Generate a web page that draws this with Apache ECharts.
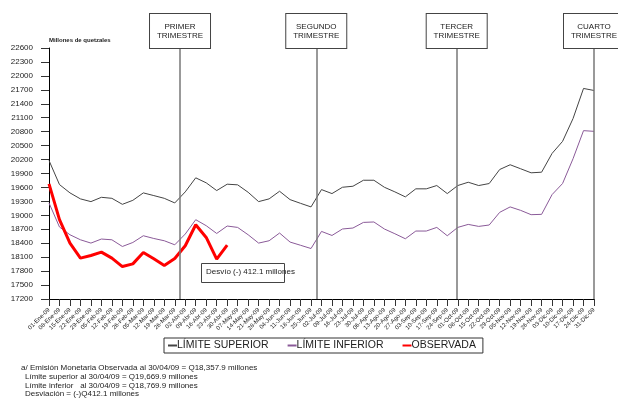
<!DOCTYPE html>
<html><head><meta charset="utf-8">
<script src="https://cdn.jsdelivr.net/npm/echarts@6/dist/echarts.min.js"></script>
<style>html,body{margin:0;padding:0;background:#fff}#c{width:618px;height:399px}</style>
</head><body><div id="c"></div>
<script>
const fechas = ['01-Ene-09','08-Ene-09','15-Ene-09','22-Ene-09','29-Ene-09','05-Feb-09','12-Feb-09','19-Feb-09','26-Feb-09','05-Mar-09','12-Mar-09','19-Mar-09','26-Mar-09','02-Abr-09','09-Abr-09','16-Abr-09','23-Abr-09','30-Abr-09','07-May-09','14-May-09','21-May-09','28-May-09','04-Jun-09','11-Jun-09','18-Jun-09','25-Jun-09','02-Jul-09','09-Jul-09','16-Jul-09','23-Jul-09','30-Jul-09','06-Ago-09','13-Ago-09','20-Ago-09','27-Ago-09','03-Sep-09','10-Sep-09','17-Sep-09','24-Sep-09','01-Oct-09','08-Oct-09','15-Oct-09','22-Oct-09','29-Oct-09','05-Nov-09','12-Nov-09','19-Nov-09','26-Nov-09','03-Dic-09','10-Dic-09','17-Dic-09','24-Dic-09','31-Dic-09'];
const limiteSuperior = [20180,19662,19483,19354,19295,19388,19366,19237,19323,19483,19425,19366,19267,19505,19807,19699,19533,19670,19656,19496,19295,19354,19518,19338,19258,19181,19554,19468,19604,19626,19755,19755,19604,19505,19397,19570,19570,19641,19468,19641,19712,19641,19684,19986,20088,20002,19915,19928,20332,20591,21082,21730,21686];
const limiteInferior = [19267,18749,18582,18474,18403,18490,18474,18330,18416,18561,18502,18453,18366,18598,18906,18777,18610,18770,18740,18582,18403,18453,18619,18425,18356,18286,18654,18567,18706,18727,18848,18857,18706,18604,18496,18662,18662,18740,18561,18740,18805,18762,18792,19064,19181,19107,19014,19021,19446,19684,20218,20822,20807];
const observada = [19678,18906,18403,18079,18135,18209,18079,17898,17956,18200,18064,17919,18070,18345,18798,18524,18058,18358];
const trimestres = ['PRIMER\nTRIMESTRE','SEGUNDO\nTRIMESTRE','TERCER\nTRIMESTRE','CUARTO\nTRIMESTRE'];
const posTrimestres = [12.5, 25.5, 38.9, 52];
const yTicks = {min:17200, max:22600, step:300};
const notas = [
  'a/ Emisión Monetaria Observada al 30/04/09 = Q18,357.9 millones',
  'Límite superior al 30/04/09 = Q19,669.9 millones',
  'Límite inferior   al 30/04/09 = Q18,769.9 millones',
  'Desviación = (-)Q412.1 millones'
];
const FONT = 'Liberation Sans, Arial, sans-serif';
const chart = echarts.init(document.getElementById('c'), null, {renderer:'canvas'});
chart.setOption({
  animation:false,
  textStyle:{fontFamily:FONT},
  grid:{left:49,right:24,top:48,bottom:100},
  xAxis:[{
    type:'category', data:fechas, boundaryGap:false,
    axisLine:{lineStyle:{color:'#000',width:1}},
    axisTick:{show:true,length:7,interval:0,alignWithLabel:true,lineStyle:{color:'#333'}},
    axisLabel:{interval:0,rotate:45,fontSize:6,color:'#222',margin:10,fontFamily:FONT},
    splitLine:{show:false}
  },{
    type:'value', min:0, max:52, show:false
  }],
  yAxis:{
    type:'value', min:yTicks.min, max:yTicks.max, interval:yTicks.step,
    axisLine:{show:true,lineStyle:{color:'#000'}},
    axisTick:{show:true,length:8,lineStyle:{color:'#333'}},
    axisLabel:{fontSize:8,color:'#222',margin:16,fontFamily:FONT,formatter:v=>String(v)},
    splitLine:{show:false}
  },
  legend:{
    left:164, top:338, itemGap:19, padding:[2,7,2,4],
    borderColor:'#333', borderWidth:1,
    itemWidth:9, itemHeight:2, icon:'rect',
    textStyle:{fontSize:10.5,color:'#222',fontFamily:FONT,padding:[0,0,0,-5]},
    data:['LÍMITE SUPERIOR','LÍMITE INFERIOR','OBSERVADA']
  },
  series:[
    {name:'LÍMITE SUPERIOR',type:'line',data:limiteSuperior,symbol:'none',lineStyle:{color:'#444',width:1},itemStyle:{color:'#444'}},
    {name:'LÍMITE INFERIOR',type:'line',data:limiteInferior,symbol:'none',lineStyle:{color:'#8a5a98',width:1},itemStyle:{color:'#8a5a98'}},
    {name:'OBSERVADA',type:'line',data:observada,symbol:'none',lineStyle:{color:'#ff0000',width:3},itemStyle:{color:'#ff0000'}},
    {name:'trimestres',type:'line',xAxisIndex:1,data:[],symbol:'none',
      markLine:{symbol:'none',silent:true,
        lineStyle:{color:'#777',width:1.5,type:'solid'},
        label:{show:true,position:'end',distance:0,fontSize:8,color:'#222',fontFamily:FONT,
          backgroundColor:'#fff',borderColor:'#444',borderWidth:1,
          width:60,height:18,padding:[8,0],lineHeight:9,align:'center',
          formatter:p=>trimestres[p.dataIndex]},
        data:posTrimestres.map(v=>({xAxis:v}))
      }}
  ],
  graphic:[
    {type:'text',left:'center',top:-17,style:{text:'AÑO 2009',font:'bold 18px '+FONT,fill:'#333'}},
    {type:'text',left:49,top:37,style:{text:'Millones de quetzales',font:'bold 6px '+FONT,fill:'#222'}},
    {type:'rect',shape:{x:201.5,y:263.5,width:83,height:19},style:{fill:'#fff',stroke:'#444',lineWidth:1}},
    {type:'text',left:206,top:268,style:{text:'Desvío (-) 412.1 millones',font:'8px '+FONT,fill:'#222'}},
    {type:'text',left:21,top:364,style:{text:notas[0],font:'8px '+FONT,fill:'#222'}},
    {type:'text',left:25,top:373,style:{text:notas[1],font:'8px '+FONT,fill:'#222'}},
    {type:'text',left:25,top:381.5,style:{text:notas[2],font:'8px '+FONT,fill:'#222'}},
    {type:'text',left:25,top:390,style:{text:notas[3],font:'8px '+FONT,fill:'#222'}}
  ]
});
</script></body></html>
